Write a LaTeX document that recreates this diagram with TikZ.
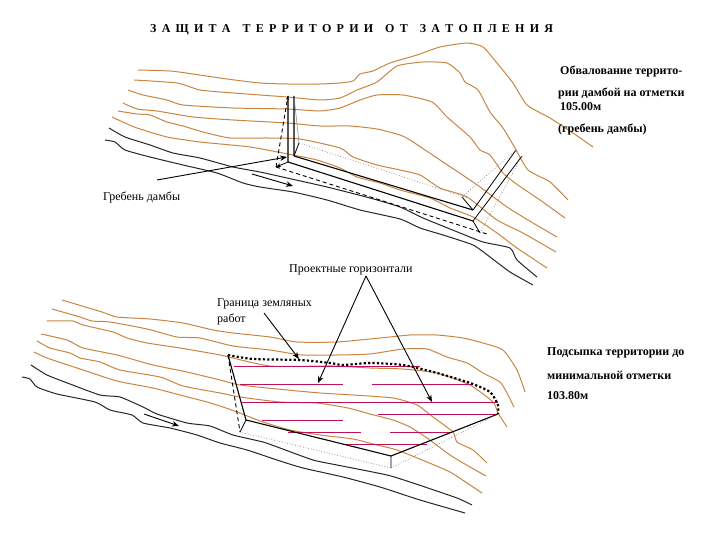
\documentclass[tikz,border=0pt]{standalone}
\usepackage{fontspec}
\setmainfont{Liberation Serif}
\usetikzlibrary{arrows.meta}
\definecolor{contour}{RGB}{200,134,66}
\definecolor{project}{RGB}{192,16,88}
\newcommand\ts{\hspace{5.25pt}}
\tikzset{
 cont/.style={contour,line width=1pt,line join=round,smooth,tension=0.35},
 slope/.style={black!85,line width=1pt,line join=round,smooth,tension=0.35},
 crest/.style={black,line width=1.1pt},
 thinb/.style={black,line width=0.8pt},
 greydot/.style={gray,line width=0.7pt,dotted},
 dashb/.style={black,line width=0.9pt,dash pattern=on 4pt off 3pt},
 prj/.style={project,line width=1pt},
 arr/.style={black,line width=0.9pt,-{Stealth[length=7pt,width=5.5pt]}},
 lbl/.style={anchor=west,inner sep=0pt,font=\fontsize{12}{14}\selectfont},
 blbl/.style={anchor=west,inner sep=0pt,font=\fontsize{12}{14}\selectfont\bfseries},
}
\begin{document}
\begin{tikzpicture}[x=1pt,y=-1pt]
\useasboundingbox (0,0) rectangle (720,540);
\fill[white] (0,0) rectangle (720,540);
% ---------- top contours
\draw[cont] plot coordinates {(138,70)(170,71)(193,74)(227,79)(260,83)(287,84)(320,84)(340,83)(353,81)(360,74)(373,71)(390,63)(417,55)(440,47)(467,43)(483,47)(497,63)(513,83)(527,105)(550,118)(573,133)(593,147)};
\draw[cont] plot coordinates {(134,80)(177,83)(200,90)(233,93)(287,97)(320,100)(340,98)(357,90)(377,82)(397,66)(423,62)(447,63)(460,73)(465,82)(478,90)(490,112)(503,128)(515,148)(528,170)(550,182)(568,200)};
\draw[cont] plot coordinates {(128,90)(143,95)(167,100)(183,105)(233,108)(287,109)(320,111)(340,108)(360,100)(377,95)(403,95)(432,102)(447,117)(470,137)(480,150)(490,155)(503,173)(515,183)(540,200)(565,218)};
\draw[cont] plot coordinates {(123,103)(137,109)(157,111)(193,117)(233,120)(287,123)(320,126)(350,126)(377,129)(400,135)(410,140)(437,158)(467,178)(480,187)(507,207)(533,223)(557,237)};
\draw[cont] plot coordinates {(118,111)(137,114)(150,115)(167,122)(183,126)(203,132)(230,138)(267,138)(300,139)(340,148)(353,157)(377,165)(400,170)(420,175)(440,188)(467,197)(497,220)(523,233)(556,252)};
\draw[cont] plot coordinates {(112,117)(125,123)(137,128)(167,137)(200,142)(250,147)(293,155)(317,160)(340,168)(357,177)(380,183)(400,190)(430,198)(450,208)(473,217)(497,233)(517,248)(547,268)};
% ---------- top bank
\draw[slope] plot coordinates {(109,128)(125,137)(150,145)(173,153)(200,158)(233,167)(260,172)(287,178)(327,187)(370,198)(400,207)(423,218)(460,233)(483,242)(510,248)(517,260)(537,277)};
\draw[slope] plot coordinates {(105,140)(115,142)(125,150)(150,157)(183,165)(217,173)(243,183)(260,187)(293,192)(327,200)(360,210)(400,219)(420,228)(443,235)(473,245)(490,257)(510,272)(533,285)};
% ---------- top dam
\coordinate (a) at (288,96); \coordinate (b) at (288,162);
\coordinate (c) at (294,96); \coordinate (d) at (294,156);
\coordinate (e) at (473,221); \coordinate (f) at (473,210);
\coordinate (g) at (516,150); \coordinate (h) at (522,156);
\coordinate (i) at (299,143); \coordinate (j) at (462,197);
\coordinate (k) at (276,167); \coordinate (l) at (487,234); \coordinate (m) at (480,233);
\draw[crest] (a)--(b) (c)--(d) (b)--(e) (d)--(f);
\draw[thinb] (f)--(g) (e)--(h) (d)--(i) (j)--(f) (e)--(m);
\draw[gray,line width=0.5pt] (c)--(i);
\draw[greydot] (i)--(468,198) (j)--(g) (m)--(h);
\draw[dashb,-{Stealth[length=4pt,width=3pt]}] (k)--(a);
\draw[thinb,-{Stealth[length=5pt,width=4pt]}] (b)--(k);
\draw[dashb] (k)--(l);
\coordinate (tailA) at (157,180); \coordinate (tipA) at (287,157);
\draw[arr] (tailA)--(tipA);
\coordinate (tailB) at (252,174); \coordinate (tipB) at (293,186);
\draw[arr] (tailB)--(tipB);
% ---------- bottom contours
\draw[cont] plot coordinates {(62,300)(102,312)(117,317)(150,319)(183,323)(213,330)(233,333)(270,337)(297,342)(337,342)(380,338)(410,335)(437,335)(463,338)(483,343)(503,350)(517,370)(525,392)};
\draw[cont] plot coordinates {(52,309)(80,317)(92,321)(110,322)(147,329)(177,337)(200,338)(233,346)(270,350)(302,355)(337,355)(370,354)(403,349)(427,349)(447,357)(467,363)(483,373)(500,382)(507,393)(514,407)};
\draw[cont] plot coordinates {(47,321)(73,321)(83,325)(113,332)(127,338)(147,343)(180,348)(220,355)(270,366)(333,366)(370,368)(403,369)(437,373)(470,385)(493,402)(498,413)(507,427)};
\draw[cont] plot coordinates {(41,334)(67,340)(83,348)(117,355)(153,365)(187,372)(220,380)(240,385)(277,389)(320,393)(353,395)(393,398)(417,405)(433,417)(453,432)(457,442)(473,450)(487,463)};
\draw[cont] plot coordinates {(37,341)(50,348)(70,353)(80,358)(100,362)(120,370)(160,377)(183,386)(220,393)(240,397)(280,402)(317,403)(348,408)(370,414)(393,420)(410,427)(427,438)(450,455)(470,467)(486,476)};
\draw[cont] plot coordinates {(34,352)(47,358)(80,369)(117,381)(153,388)(180,395)(207,402)(223,407)(237,412)(263,422)(290,430)(320,435)(353,439)(377,445)(397,450)(427,462)(450,472)(467,483)(482,493)};
% ---------- bottom bank
\draw[slope] plot coordinates {(31,365)(47,375)(70,384)(100,395)(120,397)(143,407)(157,414)(187,423)(210,426)(233,435)(263,442)(280,448)(313,460)(337,465)(387,475)(413,483)(457,498)(472,505)};
\draw[slope] plot coordinates {(22,377)(30,379)(37,387)(57,394)(95,402)(110,410)(132,415)(143,423)(170,428)(197,435)(220,443)(247,450)(280,461)(303,468)(343,477)(380,487)(420,500)(465,513)};
% ---------- design contours
\draw[prj] (234,366.5)--(420,366.5);
\draw[prj] (240,384)--(343,384) (372,384)--(472,384)
 (242,402)--(498,402) (378,414)--(498,414) (262,420)--(343,420)
 (288,432)--(361,432) (390,432)--(452,432) (343,444)--(427,444);
% ---------- bottom fill outline
\coordinate (p) at (228,355); \coordinate (q) at (246,420); \coordinate (r) at (240,432);
\coordinate (s) at (391,456); \coordinate (t) at (498,414); \coordinate (u) at (391,468);
\draw[crest] (p)--(q) (q)--(s) (s)--(t);
\draw[thinb] (q)--(r) (s)--(u);
\draw[dashb] (p)--(r);
\draw[greydot] (r)--(u) (u)--(t);
\draw[black,line width=2.2pt,dash pattern=on 2.2pt off 2.2pt,smooth,tension=0.4] plot coordinates {(228,355)(253,359)(300,360)(330,363)(343,365)(370,363)(403,365)(437,373)(470,383)(490,392)(498,405)(498,414)};
\coordinate (apex) at (366,276); \coordinate (tipC) at (318,383); \coordinate (tipD) at (432,402);
\draw[arr] (apex)--(tipC);
\draw[arr] (apex)--(tipD);
\coordinate (tailE) at (264,313); \coordinate (tipE) at (299,359);
\draw[arr] (tailE)--(tipE);
\coordinate (tailF) at (144,414); \coordinate (tipF) at (179,426);
\draw[arr] (tailF)--(tipF);
% ---------- texts
\node[blbl] (title) at (150,30) {З\ts А\ts Щ\ts И\ts Т\ts А\quad Т\ts Е\ts Р\ts Р\ts И\ts Т\ts О\ts Р\ts И\ts И\quad О\ts Т\quad З\ts А\ts Т\ts О\ts П\ts Л\ts Е\ts Н\ts И\ts Я};
\node[blbl] (t1) at (560,71) {Обвалование террито-};
\node[blbl] (t2) at (558,93) {рии дамбой на отметки};
\node[blbl] (t3) at (560,107) {105.00м};
\node[blbl] (t4) at (558,129) {(гребень дамбы)};
\node[lbl] (t5) at (103,197) {Гребень дамбы};
\node[lbl] (t6) at (289,270) {Проектные горизонтали};
\node[lbl] (t7) at (217,304) {Граница земляных};
\node[lbl] (t8) at (217,319) {работ};
\node[blbl] (t9) at (547,353) {Подсыпка территории до};
\node[blbl] (t10) at (547,375) {минимальной отметки};
\node[blbl] (t11) at (547,396) {103.80м};
\end{tikzpicture}
\end{document}
